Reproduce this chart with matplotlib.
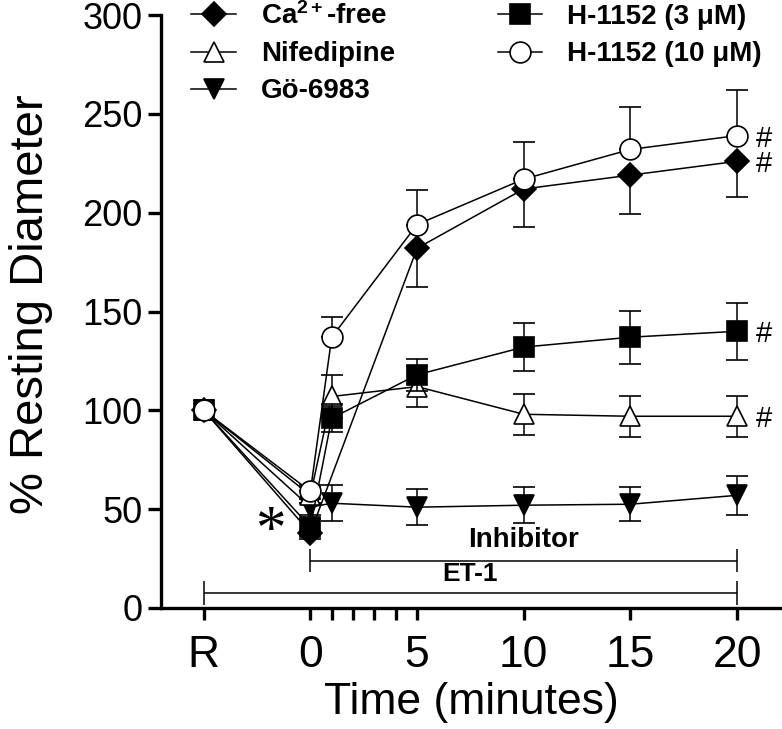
import matplotlib
matplotlib.use('Agg')
import matplotlib.pyplot as plt
from matplotlib import font_manager
import numpy as np

names = {f.name for f in font_manager.fontManager.ttflist}
SANS = 'Liberation Sans'
NARROW = 'Liberation Sans Narrow' if 'Liberation Sans Narrow' in names else SANS

plt.rcParams['font.family'] = [SANS, 'DejaVu Sans']
plt.rcParams['mathtext.fontset'] = 'custom'
plt.rcParams['mathtext.rm'] = 'Liberation Sans'
plt.rcParams['mathtext.bf'] = 'Liberation Sans:bold'
plt.rcParams['mathtext.it'] = 'Liberation Sans:italic'

# ---------------- data ----------------
ca_t = [-5, 0, 5, 10, 15, 20]
ca_v = [100, 38, 182, 212, 219, 226]
ca_e = [0, 3, 19.5, 19, 19.5, 18]          # drawn below only

h10_t = [-5, 0, 1, 5, 10, 15, 20]
h10_v = [100, 59, 137, 194, 217, 232, 239]
h10_e = [0, 3, 10, 17.5, 19, 21.5, 23]     # drawn above only

h3_t = [-5, 0, 1, 5, 10, 15, 20]
h3_v = [100, 41, 96, 118, 132, 137, 140]
h3_e = [0, 4, 7, 8, 12, 13.5, 14.5]

nif_t = [-5, 0, 1, 5, 10, 15, 20]
nif_v = [100, 57, 107, 112, 98, 97, 97]
nif_e = [0, 4, 11, 10.5, 10.5, 10.5, 10.5]

go_t = [-5, 0, 1, 5, 10, 15, 20]
go_v = [100, 51, 53, 51, 52, 52.5, 57]
go_e = [0, 4, 9, 9, 9, 8.7, 10]

xtick_pos = [-5, 0, 5, 10, 15, 20]
xtick_lab = ['R', '0', '5', '10', '15', '20']
xminor_pos = [1, 2, 3, 4]
ytick_pos = [0, 50, 100, 150, 200, 250, 300]

inhib_span = [0, 20]
inhib_level = 24
et1_span = [-5, 20]
et1_level = 7.5

hash_series = [h10_v[-1], ca_v[-1], h3_v[-1], nif_v[-1]]

# ---------------- figure ----------------
fig = plt.figure(figsize=(7.82, 7.29), dpi=100)
ax = fig.add_axes([0.2059, 0.166, 0.7941, 0.8134])

lw = 1.1
common = dict(color='black', linewidth=lw, elinewidth=lw, capsize=8,
              capthick=lw, markeredgecolor='black', markeredgewidth=1.2)

z = np.zeros
c_go = ax.errorbar(go_t, go_v, yerr=go_e, fmt='-v', markersize=15,
                   markerfacecolor='black', zorder=3, **common)
c_nif = ax.errorbar(nif_t, nif_v, yerr=nif_e, fmt='-^', markersize=15,
                    markerfacecolor='white', zorder=4, **common)
c_h3 = ax.errorbar(h3_t, h3_v, yerr=h3_e, fmt='-s', markersize=15,
                   markerfacecolor='black', zorder=5, **common)
c_ca = ax.errorbar(ca_t, ca_v, yerr=[ca_e, z(len(ca_e))], fmt='-D', markersize=12,
                   markerfacecolor='black', zorder=6, **common)
c_h10 = ax.errorbar(h10_t, h10_v, yerr=[z(len(h10_e)), h10_e], fmt='-o', markersize=15,
                    markerfacecolor='white', zorder=7, **common)

# treatment bars
ax.hlines(inhib_level, inhib_span[0], inhib_span[1], color='black', lw=1.1)
ax.vlines(inhib_span, inhib_level - 6, inhib_level + 6, color='black', lw=1.1)
ax.text(np.mean(inhib_span), inhib_level + 4, 'Inhibitor', ha='center', va='bottom',
        fontsize=20, fontweight='bold')
ax.hlines(et1_level, et1_span[0], et1_span[1], color='black', lw=1.1)
ax.vlines(et1_span, et1_level - 6, et1_level + 6, color='black', lw=1.1)
ax.text(np.mean(et1_span), et1_level + 3.5, 'ET-1', ha='center', va='bottom',
        fontsize=19, fontweight='bold')

# significance marks
ax.text(-1.9, 31, '*', fontsize=44, family='Liberation Serif',
        ha='center', va='baseline')
for v in hash_series:
    ax.annotate('#', xy=(20, v), xytext=(27, 0), textcoords='offset pixels',
                ha='center', va='center_baseline', fontsize=21)

# axes styling
ax.set_xlim(-7, 22.1)
ax.set_ylim(0, 300)
ax.spines['top'].set_visible(False)
ax.spines['right'].set_visible(False)
for s in ['left', 'bottom']:
    ax.spines[s].set_linewidth(2.4)
ax.set_xticks(xtick_pos)
ax.set_xticklabels(xtick_lab, family=NARROW, fontsize=32)
ax.set_xticks(xminor_pos, minor=True)
ax.set_yticks(ytick_pos)
ax.set_yticklabels([str(v) for v in ytick_pos], fontsize=26)
ax.tick_params(axis='both', which='both', direction='out', width=2.4, color='black')
ax.tick_params(axis='y', length=9.4, pad=4)
ax.tick_params(axis='x', which='both', length=8.6, pad=11)

ax.set_ylabel('% Resting Diameter', fontsize=34)
ax.yaxis.label.set_va('center')
ax.yaxis.set_label_coords(-0.209, 0.513)
ax.set_xlabel('Time (minutes)', fontsize=32, family=NARROW, labelpad=4)

handles = [c_ca[0], c_nif[0], c_go[0], c_h3[0], c_h10[0]]
labels = [r'Ca$^{\mathbf{2+}}$-free', 'Nifedipine', 'Gö-6983', 'H-1152 (3 μM)', 'H-1152 (10 μM)']
leg = ax.legend(handles, labels, loc='upper left', bbox_to_anchor=(0.031, 1.04), ncol=2,
                frameon=False, prop={'weight': 'bold', 'size': 20},
                handlelength=1.6, handletextpad=0.9, labelspacing=0.4,
                columnspacing=3.7, borderaxespad=0)

fig.savefig('out.png', dpi=100)
